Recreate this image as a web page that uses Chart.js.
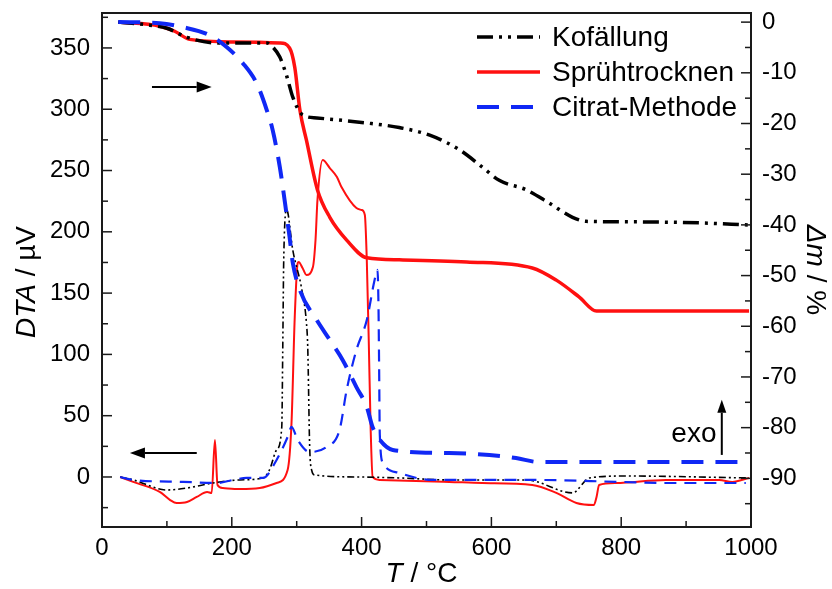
<!DOCTYPE html>
<html>
<head>
<meta charset="utf-8">
<script src="https://cdn.jsdelivr.net/npm/chart.js@4.4.1/dist/chart.umd.min.js"></script>
<style>
  html, body { margin: 0; padding: 0; background: #fff; }
</style>
</head>
<body>
<canvas id="graph" width="832" height="589"></canvas>
<script>
// Achsen
const xTicks = [0, 200, 400, 600, 800, 1000];
const xMinor = [100, 300, 500, 700, 900];
const dtaTicks = [0, 50, 100, 150, 200, 250, 300, 350];
const dtaMinor = [-25, 25, 75, 125, 175, 225, 275, 325, 375];
const massTicks = [0, -10, -20, -30, -40, -50, -60, -70, -80, -90];
const massMinor = [-5, -15, -25, -35, -45, -55, -65, -75, -85, -95];

// TG-Kurven (Massenverlust in %)
const kofTgT = [25, 74, 100, 131, 177, 254, 263, 274, 285, 294, 309, 331, 408, 458, 505, 551, 586, 612, 654, 689, 725, 746, 817, 920, 995];
const kofTgM = [0, -0.6, -1.2, -3.0, -4.1, -4.1, -4.9, -6.9, -10.8, -14.8, -18.3, -18.9, -19.9, -20.8, -22.3, -25.2, -28.6, -31.2, -33.1, -35.7, -38.5, -39.3, -39.4, -39.6, -40.0];

const sprTgT = [25, 89, 112, 135, 202, 274, 289, 297, 305, 315, 332, 351, 377, 408, 458, 562, 663, 700, 735, 762, 997];
const sprTgM = [0, -0.8, -1.8, -3.4, -3.9, -4.1, -5.1, -8.9, -17.4, -23.3, -33.1, -38.5, -43.0, -46.5, -46.9, -47.3, -48.5, -50.9, -54.2, -57.0, -57.0];

const citTgT = [25, 89, 125, 166, 192, 217, 238, 254, 263, 274, 282, 289, 294, 305, 331, 351, 371, 392, 408, 417, 428, 448, 535, 597, 638, 674, 997];
const citTgM = [0, -0.2, -1.0, -2.6, -4.9, -8.1, -12.0, -17.4, -21.3, -28.6, -35.7, -42.4, -47.5, -52.9, -58.8, -62.7, -66.7, -72.0, -75.9, -79.9, -82.4, -84.4, -85.0, -85.4, -86.0, -86.8, -86.8];

// DTA-Kurven (µV)
const kofDtaT = [28, 48, 100, 131, 171, 212, 248, 258, 269, 277, 278.5, 280, 284.6, 294, 308, 315, 317, 320, 323, 328, 397, 458, 535, 654, 725, 751, 808, 997];
const kofDta = [0, -2.4, -10.6, -9.0, -4.9, -2.4, -0.8, 5.7, 22, 40.8, 103.6, 177, 217.8, 185, 152.5, 125.6, 106, 24.5, 5.7, 1.6, 0, -0.8, -2.4, -2.4, -13, -0.8, 0.8, -0.8];

const sprDtaT = [28, 48, 89, 105, 115, 131, 146, 162, 169, 174, 178, 186, 212, 243, 269, 286, 292, 297, 301.5, 303, 309, 315, 325, 329, 332, 340, 351, 362, 369, 392, 400, 405, 408, 411, 414, 417, 428, 535, 586, 663, 700, 731, 758, 762, 766, 792, 869, 951, 971, 997];
const sprDta = [0, -4, -12.2, -18.8, -21.2, -20.4, -16.3, -12.2, -13, 30.2, -6.5, -9, -9.8, -9, -4.9, 5.7, 44, 130.5, 174.5, 175.4, 170.5, 164.8, 171.3, 193.3, 226, 258.6, 252, 244.7, 236.5, 219.4, 217.8, 213.7, 177, 111.7, 38.3, 0, -2.4, -4, -4.9, -6.5, -13, -21.2, -22.8, -16.3, -6.5, -4.9, -2.4, -2.4, -4, -0.8];

const citDtaT = [28, 48, 125, 177, 202, 223, 248, 269, 286, 292, 301.5, 320, 346, 366, 377, 392, 408, 420, 424.5, 426, 427, 428, 433, 458, 509, 663, 797, 869, 992];
const citDta = [0, -2.4, -4, -4.9, -2.4, -0.8, -0.8, 13.9, 32.6, 40.8, 30.2, 20.4, 24.5, 38.3, 71, 103.6, 128, 160.7, 169, 140, 90, 35, 11.4, 3.3, -2.4, -2.4, -4, -4.9, -4.9];

const FONT = 'Liberation Sans, Arial, sans-serif';
const RED = 'rgb(255, 16, 16)';
const BLUE = 'rgb(16, 40, 245)';
const BLACK = '#000';

function toPoints(ts, vs) {
  return ts.map((t, i) => ({ x: t, y: vs[i] }));
}

function series(label, ts, vs, axis, color, width, dash, order, legend) {
  return {
    label: label,
    data: toPoints(ts, vs),
    yAxisID: axis,
    borderColor: color,
    backgroundColor: color,
    borderWidth: width,
    borderDash: dash,
    borderCapStyle: 'butt',
    pointRadius: 0,
    fill: false,
    tension: 0.25,
    cubicInterpolationMode: 'monotone',
    order: order,
    showInLegend: legend
  };
}

const datasets = [
  series('Kofällung', kofTgT, kofTgM, 'm', BLACK, 3.5, [16, 6, 3, 6, 3, 6], 3, true),
  series('Sprühtrocknen', sprTgT, sprTgM, 'm', RED, 3.5, [], 4, true),
  series('Citrat-Methode', citTgT, citTgM, 'm', BLUE, 4, [22, 12], 2, true),
  series('Kofällung DTA', kofDtaT, kofDta, 'y', BLACK, 1.6, [7, 3, 2, 3, 2, 3], 5, false),
  series('Sprühtrocknen DTA', sprDtaT, sprDta, 'y', RED, 2, [], 6, false),
  series('Citrat-Methode DTA', citDtaT, citDta, 'y', BLUE, 2.2, [12, 8], 1, false)
];

// Text mit gemischten Schriftschnitten (kursiv / normal)
function drawRich(ctx, parts, x, y, angle, size) {
  ctx.save();
  ctx.translate(x, y);
  ctx.rotate(angle);
  ctx.textBaseline = 'middle';
  ctx.textAlign = 'left';
  ctx.fillStyle = '#000';
  let total = 0;
  parts.forEach(p => {
    ctx.font = (p.italic ? 'italic ' : '') + size + 'px ' + FONT;
    total += ctx.measureText(p.text).width;
  });
  let cx = -total / 2;
  parts.forEach(p => {
    ctx.font = (p.italic ? 'italic ' : '') + size + 'px ' + FONT;
    ctx.fillText(p.text, cx, 0);
    cx += ctx.measureText(p.text).width;
  });
  ctx.restore();
}

function arrow(ctx, x1, y1, x2, y2, head, half) {
  const ang = Math.atan2(y2 - y1, x2 - x1);
  const bx = x2 - head * Math.cos(ang);
  const by = y2 - head * Math.sin(ang);
  ctx.beginPath();
  ctx.moveTo(x1, y1);
  ctx.lineTo(bx, by);
  ctx.stroke();
  ctx.beginPath();
  ctx.moveTo(x2, y2);
  ctx.lineTo(bx + half * Math.sin(ang), by - half * Math.cos(ang));
  ctx.lineTo(bx - half * Math.sin(ang), by + half * Math.cos(ang));
  ctx.closePath();
  ctx.fill();
}

const decorPlugin = {
  id: 'decor',
  afterDatasetsDraw(chart) {
    const { ctx, chartArea: a, scales } = chart;
    const sx = scales.x, sy = scales.y, sm = scales.m;
    ctx.save();

    // Rahmen
    ctx.strokeStyle = '#1a1a1a';
    ctx.lineWidth = 2;
    ctx.strokeRect(a.left, a.top, a.right - a.left, a.bottom - a.top);

    // Ticks nach innen
    ctx.lineWidth = 1.5;
    const line = (x1, y1, x2, y2) => {
      ctx.beginPath(); ctx.moveTo(x1, y1); ctx.lineTo(x2, y2); ctx.stroke();
    };
    xTicks.forEach(v => { const p = sx.getPixelForValue(v); line(p, a.bottom, p, a.bottom - 10); });
    xMinor.forEach(v => { const p = sx.getPixelForValue(v); line(p, a.bottom, p, a.bottom - 6); });
    dtaTicks.forEach(v => { const p = sy.getPixelForValue(v); line(a.left, p, a.left + 10, p); });
    dtaMinor.forEach(v => { const p = sy.getPixelForValue(v); line(a.left, p, a.left + 6, p); });
    massTicks.forEach(v => { const p = sm.getPixelForValue(v); line(a.right, p, a.right - 10, p); });
    massMinor.forEach(v => { const p = sm.getPixelForValue(v); line(a.right, p, a.right - 6, p); });

    // Pfeile und "exo"
    ctx.strokeStyle = '#000';
    ctx.fillStyle = '#000';
    ctx.lineWidth = 2;
    arrow(ctx, sx.getPixelForValue(77), sm.getPixelForValue(-12.8), sx.getPixelForValue(169), sm.getPixelForValue(-12.8), 15, 5.5);
    arrow(ctx, sx.getPixelForValue(146), sy.getPixelForValue(19.6), sx.getPixelForValue(43), sy.getPixelForValue(19.6), 15, 5.5);
    arrow(ctx, sx.getPixelForValue(955), sy.getPixelForValue(18), sx.getPixelForValue(955), sy.getPixelForValue(63), 13, 4.5);
    ctx.font = '28px ' + FONT;
    ctx.textAlign = 'center';
    ctx.textBaseline = 'alphabetic';
    ctx.fillText('exo', sx.getPixelForValue(912), sy.getPixelForValue(28.5));

    // Legende
    const rows = chart.data.datasets.filter(d => d.showInLegend);
    rows.forEach((d, i) => {
      const y = a.top + 24 + i * 35;
      const x0 = a.right - 274;
      ctx.save();
      ctx.strokeStyle = d.borderColor;
      ctx.lineWidth = d.borderWidth;
      ctx.setLineDash(d.borderDash);
      line(x0, y, x0 + 63, y);
      ctx.restore();
      ctx.fillStyle = '#000';
      ctx.font = '28px ' + FONT;
      ctx.textAlign = 'left';
      ctx.textBaseline = 'middle';
      ctx.fillText(d.label, x0 + 75, y + 1);
    });

    ctx.restore();

    // Achsentitel
    drawRich(ctx, [{ text: 'DTA', italic: true }, { text: ' / µV' }], 27, (a.top + a.bottom) / 2 + 12, -Math.PI / 2, 28);
    drawRich(ctx, [{ text: 'T', italic: true }, { text: ' / °C' }], (a.left + a.right) / 2 - 5, 574, 0, 28);
    drawRich(ctx, [{ text: '\u0394m', italic: true }, { text: ' / %' }], 815, 270, Math.PI / 2, 28);
  }
};

const tickFont = { family: FONT, size: 24 };

function noPad(s) {
  s.paddingTop = 0;
  s.paddingBottom = 0;
  s.paddingLeft = 0;
  s.paddingRight = 0;
}

new Chart(document.getElementById('graph'), {
  type: 'line',
  data: { datasets: datasets },
  options: {
    responsive: false,
    animation: false,
    layout: { padding: { top: 13, left: 0, right: 0, bottom: 0 } },
    plugins: { legend: { display: false }, tooltip: { enabled: false } },
    scales: {
      x: {
        type: 'linear',
        position: 'bottom',
        min: 0,
        max: 1000,
        grid: { display: false, drawTicks: false },
        border: { display: false },
        afterBuildTicks: s => { s.ticks = xTicks.map(v => ({ value: v })); },
        afterFit: s => { s.height = 62; noPad(s); },
        ticks: { font: tickFont, color: '#000', padding: 7, maxRotation: 0, autoSkip: false, callback: v => String(v) }
      },
      y: {
        type: 'linear',
        position: 'left',
        min: -40.8,
        max: 378.5,
        grid: { display: false, drawTicks: false },
        border: { display: false },
        afterBuildTicks: s => { s.ticks = dtaTicks.map(v => ({ value: v })); },
        afterFit: s => { s.width = 102; noPad(s); },
        ticks: { font: tickFont, color: '#000', padding: 12, autoSkip: false, callback: v => String(v) }
      },
      m: {
        type: 'linear',
        position: 'right',
        min: -99.6,
        max: 1.8,
        grid: { display: false, drawTicks: false },
        border: { display: false },
        afterBuildTicks: s => { s.ticks = massTicks.map(v => ({ value: v })); },
        afterFit: s => { s.width = 81; noPad(s); },
        ticks: { font: tickFont, color: '#000', padding: 11, autoSkip: false, callback: v => String(v) }
      }
    }
  },
  plugins: [decorPlugin]
});
</script>
</body>
</html>
